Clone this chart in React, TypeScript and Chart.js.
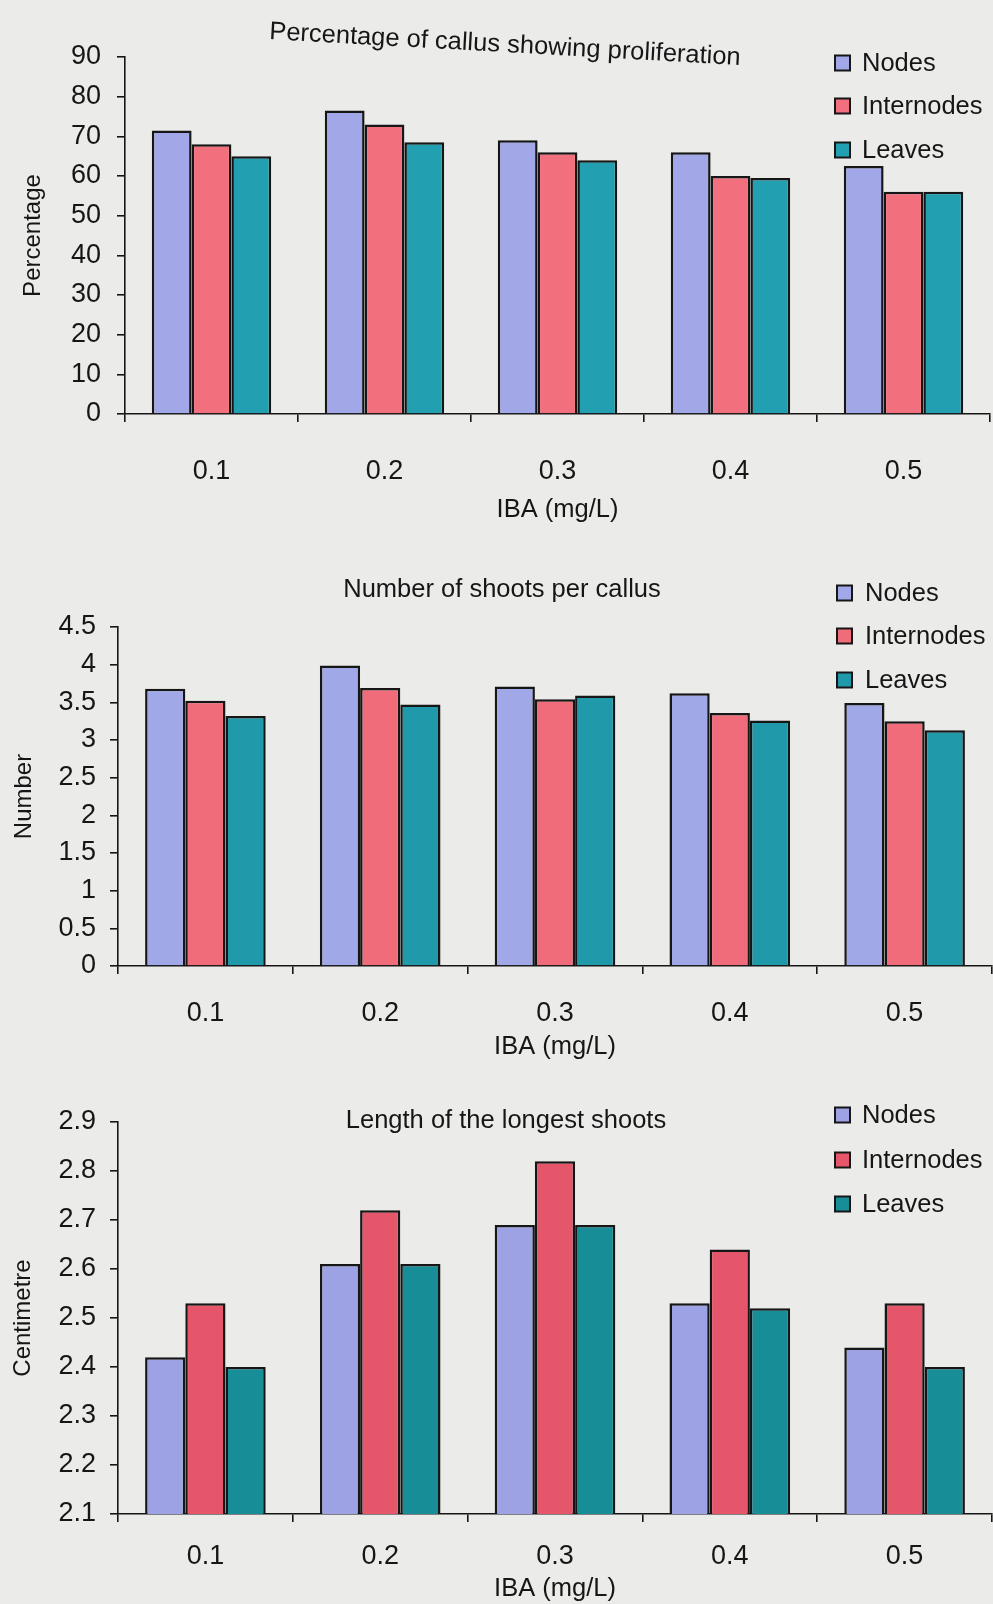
import React, { useEffect, useRef } from "react";
import { Chart, registerables } from "chart.js";

Chart.register(...registerables);

// ---------- data ----------
const categories = ["0.1", "0.2", "0.3", "0.4", "0.5"];
const seriesNames = ["Nodes", "Internodes", "Leaves"];

const proliferationNodes = [71.5, 76.5, 69, 66, 62.5];
const proliferationInternodes = [68, 73, 66, 60, 56];
const proliferationLeaves = [65, 68.5, 64, 59.5, 56];

const shootsNodes = [3.68, 3.99, 3.71, 3.62, 3.49];
const shootsInternodes = [3.52, 3.69, 3.54, 3.36, 3.25];
const shootsLeaves = [3.32, 3.47, 3.59, 3.26, 3.13];

const lengthNodes = [2.42, 2.61, 2.69, 2.53, 2.44];
const lengthInternodes = [2.53, 2.72, 2.82, 2.64, 2.53];
const lengthLeaves = [2.4, 2.61, 2.69, 2.52, 2.4];

const FONT = "'Liberation Sans', Arial, Helvetica, sans-serif";
const INK = "#161616";

type Spec = {
  top: number;
  height: number;
  area: { left: number; right: number; top: number; bottom: number };
  title: string;
  titleX: number;
  titleY: number;
  titleRot: number;
  yTitle: string;
  yTitlePad: number;
  yMin: number;
  yMax: number;
  yStep: number;
  yDecimals: number;
  yTickPad: number;
  xTickPad: number;
  xTitlePad: number;
  legendBoxX: number;
  legendTextX: number;
  legendYs: number[];
  values: number[][];
  colors: string[];
};

const specs: Spec[] = [
  {
    top: 0,
    height: 535,
    area: { left: 125, right: 990, top: 57, bottom: 414 },
    title: "Percentage of callus showing proliferation",
    titleX: 505,
    titleY: 45,
    titleRot: 0.055,
    yTitle: "Percentage",
    yTitlePad: 19,
    yMin: 0,
    yMax: 90,
    yStep: 10,
    yDecimals: 0,
    yTickPad: 16,
    xTickPad: 33,
    xTitlePad: 10,
    legendBoxX: 835,
    legendTextX: 862,
    legendYs: [63, 106, 150],
    values: [proliferationNodes, proliferationInternodes, proliferationLeaves],
    colors: ["#a2a7e8", "#f2707e", "#22a0b2"],
  },
  {
    top: 535,
    height: 535,
    area: { left: 118, right: 992, top: 92, bottom: 431 },
    title: "Number of shoots per callus",
    titleX: 502,
    titleY: 55,
    titleRot: 0,
    yTitle: "Number",
    yTitlePad: 10,
    yMin: 0,
    yMax: 4.5,
    yStep: 0.5,
    yDecimals: -1,
    yTickPad: 14,
    xTickPad: 23,
    xTitlePad: 8,
    legendBoxX: 837,
    legendTextX: 865,
    legendYs: [58, 101, 145],
    values: [shootsNodes, shootsInternodes, shootsLeaves],
    colors: ["#a0a8e8", "#f06c7a", "#2099aa"],
  },
  {
    top: 1070,
    height: 534,
    area: { left: 118, right: 992, top: 52, bottom: 444 },
    title: "Length of the longest shoots",
    titleX: 506,
    titleY: 51,
    titleRot: 0,
    yTitle: "Centimetre",
    yTitlePad: 9,
    yMin: 2.1,
    yMax: 2.9,
    yStep: 0.1,
    yDecimals: 1,
    yTickPad: 14,
    xTickPad: 18,
    xTitlePad: 0,
    legendBoxX: 835,
    legendTextX: 862,
    legendYs: [45, 90, 134],
    values: [lengthNodes, lengthInternodes, lengthLeaves],
    colors: ["#9ca2e4", "#e6566a", "#178d98"],
  },
];

const decorPlugin = {
  id: "decor",
  afterDraw(chart: any) {
    const o = chart.options.plugins.decor;
    if (!o) return;
    const ctx = chart.ctx;
    ctx.save();
    ctx.fillStyle = INK;
    ctx.font = `25.5px ${FONT}`;
    ctx.textAlign = "center";
    ctx.textBaseline = "middle";
    ctx.translate(o.titleX, o.titleY);
    ctx.rotate(o.titleRot || 0);
    ctx.fillText(o.title, 0, 0);
    ctx.restore();

    ctx.save();
    ctx.font = `25.5px ${FONT}`;
    ctx.textAlign = "left";
    ctx.textBaseline = "middle";
    chart.data.datasets.forEach((ds: any, i: number) => {
      const y = o.legendYs[i];
      const s = 15;
      ctx.fillStyle = ds.backgroundColor;
      ctx.fillRect(o.legendBoxX, y - s / 2, s, s);
      ctx.lineWidth = 2;
      ctx.strokeStyle = INK;
      ctx.strokeRect(o.legendBoxX, y - s / 2, s, s);
      ctx.fillStyle = INK;
      ctx.fillText(ds.label, o.legendTextX, y + 1);
    });
    ctx.restore();
  },
};

function Panel({ spec }: { spec: Spec }) {
  const ref = useRef<HTMLCanvasElement | null>(null);
  useEffect(() => {
    const canvas = ref.current;
    if (!canvas) return;
    const W = 993;
    const chart = new Chart(canvas, {
      type: "bar",
      data: {
        labels: categories,
        datasets: seriesNames.map((name, i) => ({
          label: name,
          data: spec.values[i],
          backgroundColor: spec.colors[i],
          borderColor: INK,
          borderWidth: 2.5,
          categoryPercentage: 0.69,
          barPercentage: 1.0,
        })),
      },
      options: {
        responsive: false,
        animation: false,
        devicePixelRatio: 1,
        layout: {
          padding: {
            left: 0,
            top: spec.area.top,
            right: W - spec.area.right,
            bottom: 0,
          },
        },
        plugins: {
          legend: { display: false },
          title: { display: false },
          tooltip: { enabled: false },
          decor: {
            title: spec.title,
            titleX: spec.titleX,
            titleY: spec.titleY,
            titleRot: spec.titleRot,
            legendBoxX: spec.legendBoxX,
            legendTextX: spec.legendTextX,
            legendYs: spec.legendYs,
          },
        } as any,
        scales: {
          x: {
            afterFit: (scale: any) => {
              scale.height = spec.height - spec.area.bottom;
            },
            grid: {
              drawOnChartArea: false,
              drawTicks: true,
              tickLength: 8,
              color: INK,
              lineWidth: 1.6,
            },
            border: { display: true, color: INK, width: 1.6 },
            ticks: {
              color: INK,
              font: { family: FONT, size: 27 },
              padding: spec.xTickPad,
              maxRotation: 0,
              autoSkip: false,
            },
            title: {
              display: true,
              text: "IBA (mg/L)",
              color: INK,
              font: { family: FONT, size: 25.5 },
              padding: { top: 0, bottom: spec.xTitlePad },
            },
          },
          y: {
            min: spec.yMin,
            max: spec.yMax,
            afterFit: (scale: any) => {
              scale.width = spec.area.left;
            },
            grid: {
              drawOnChartArea: false,
              drawTicks: true,
              tickLength: 8,
              color: INK,
              lineWidth: 1.6,
            },
            border: { display: true, color: INK, width: 1.6 },
            ticks: {
              stepSize: spec.yStep,
              autoSkip: false,
              color: INK,
              font: { family: FONT, size: 27 },
              padding: spec.yTickPad,
              callback: (v: any) => {
                const n = Number(v);
                if (spec.yDecimals >= 0) return n.toFixed(spec.yDecimals);
                return String(Math.round(n * 10) / 10);
              },
            },
            title: {
              display: true,
              text: spec.yTitle,
              color: INK,
              font: { family: FONT, size: 24 },
              padding: { top: spec.yTitlePad, bottom: 0 },
            },
          },
        },
      },
      plugins: [decorPlugin],
    });
    return () => chart.destroy();
  }, [spec]);
  return (
    <canvas
      ref={ref}
      width={993}
      height={spec.height}
      style={{
        position: "absolute",
        left: 0,
        top: spec.top,
        width: 993,
        height: spec.height,
        display: "block",
      }}
    />
  );
}

export default function App() {
  return (
    <div
      style={{
        position: "absolute",
        left: 0,
        top: 0,
        width: 993,
        height: 1604,
        background: "#ebebea",
        overflow: "hidden",
      }}
    >
      {specs.map((s, i) => (
        <Panel key={i} spec={s} />
      ))}
    </div>
  );
}
